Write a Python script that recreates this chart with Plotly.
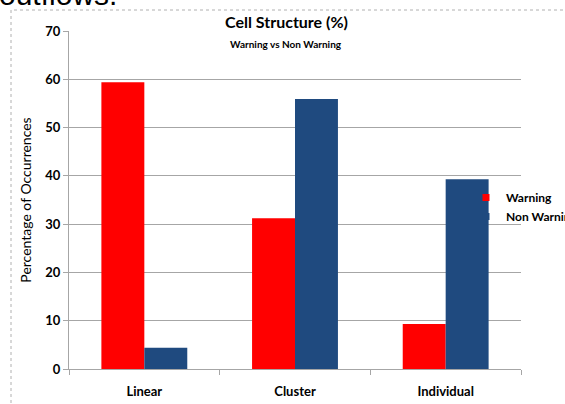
import plotly.graph_objects as go

categories = ["Linear", "Cluster", "Individual"]
warning = [59.4, 31.2, 9.3]
non_warning = [4.4, 55.9, 39.3]
y_ticks = [0, 10, 20, 30, 40, 50, 60, 70]
series_names = ["Warning", "Non Warning"]
series_colors = ["#ff0000", "#1f4a7f"]

FONT = "Lato"
GRID = "#a6a6a6"

fig = go.Figure()
for name, vals, color in zip(series_names, [warning, non_warning], series_colors):
    fig.add_trace(go.Bar(name=name, x=categories, y=vals, showlegend=False,
                         marker=dict(color=color, line=dict(width=0))))
    # small square legend keys
    fig.add_trace(go.Scatter(name=name, x=[None], y=[None], mode="markers",
                             marker=dict(symbol="square", size=7, color=color),
                             showlegend=True))

fig.update_layout(
    width=565, height=404,
    margin=dict(l=69, r=44, t=31, b=35, autoexpand=False),
    paper_bgcolor="white", plot_bgcolor="white",
    barmode="group", bargap=0.43, bargroupgap=0,
    font=dict(family=FONT, color="black"),
    showlegend=True,
    legend=dict(x=(466 - 69) / 452, y=(369 - 207) / 338, xanchor="left", yanchor="middle",
                font=dict(family=FONT, size=12, color="black", weight="bold"),
                itemwidth=30, tracegroupgap=0, bgcolor="rgba(0,0,0,0)"),
    xaxis=dict(
        showgrid=False, showline=True, linecolor=GRID, linewidth=1,
        ticks="outside", tickson="boundaries", ticklen=5, tickcolor=GRID,
        ticklabelstandoff=10,
        tickfont=dict(family=FONT, size=13, weight="bold"),
        fixedrange=True,
    ),
    yaxis=dict(
        range=[0, 70], tickvals=y_ticks, showgrid=True, gridcolor=GRID,
        gridwidth=1, showline=True, linecolor=GRID, linewidth=1,
        ticks="outside", ticklen=5, tickcolor=GRID, zeroline=False,
        tickfont=dict(family=FONT, size=13, weight="bold"),
        title=dict(text="Percentage of Occurrences",
                   font=dict(family=FONT, size=14), standoff=10),
    ),
)

# Chart titles
fig.add_annotation(text="<b>Cell Structure (%)</b>", xref="paper", yref="paper",
                   x=(286 - 69) / 452, y=(369 - 22) / 338, xanchor="center", yanchor="middle",
                   showarrow=False, font=dict(family=FONT, size=16))
fig.add_annotation(text="<b>Warning vs Non Warning</b>", xref="paper", yref="paper",
                   x=(286 - 69) / 452, y=(369 - 44) / 338, xanchor="center", yanchor="middle",
                   showarrow=False, font=dict(family=FONT, size=10))

# Slide text above the chart frame
fig.add_annotation(text="outflows.", xref="paper", yref="paper",
                   x=(-3 - 69) / 452, y=(369 + 6) / 338, xanchor="left", yanchor="middle",
                   showarrow=False, font=dict(family="Liberation Sans", size=30))

# Chart frame
fig.add_shape(type="rect", xref="paper", yref="paper",
              x0=(11 - 69) / 452, x1=(600 - 69) / 452,
              y0=(369 - 440) / 338, y1=(369 - 10) / 338,
              line=dict(color="#b0b0b0", width=1, dash="dot"), layer="below")

fig.write_html("out.html")
